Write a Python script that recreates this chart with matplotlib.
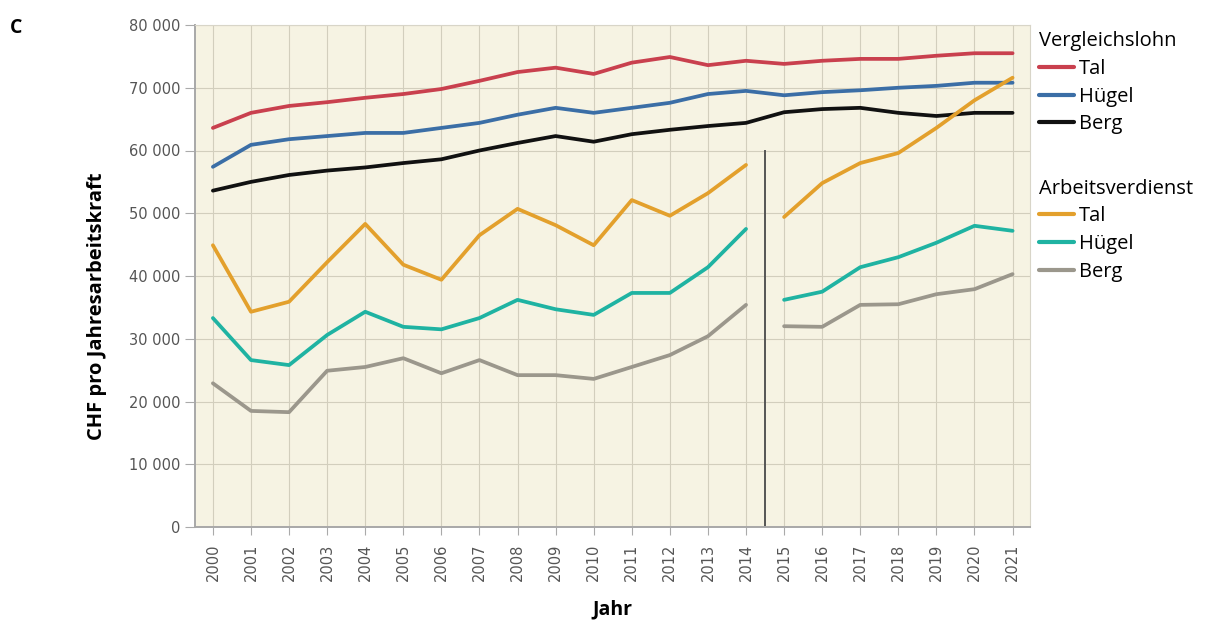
import numpy as np
import matplotlib
matplotlib.use("Agg")
import matplotlib.pyplot as plt
from matplotlib.ticker import FuncFormatter, MultipleLocator

# Data
years = list(range(2000, 2022))

vgl_tal = [63600, 66000, 67100, 67700, 68400, 69000, 69800, 71100, 72500, 73200, 72200,
           74000, 74900, 73600, 74300, 73800, 74300, 74600, 74600, 75100, 75500, 75500]
vgl_huegel = [57400, 60900, 61800, 62300, 62800, 62800, 63600, 64400, 65700, 66800, 66000,
              66800, 67600, 69000, 69500, 68800, 69300, 69600, 70000, 70300, 70800, 70800]
vgl_berg = [53600, 55000, 56100, 56800, 57300, 58000, 58600, 60000, 61200, 62300, 61400,
            62600, 63300, 63900, 64400, 66100, 66600, 66800, 66000, 65500, 66000, 66000]

# Arbeitsverdienst: series is broken between 2014 and 2015
av_tal = [44900, 34300, 35900, 42200, 48300, 41800, 39400, 46500, 50700, 48100, 44900,
          52100, 49600, 53200, 57700, 49400, 54800, 58000, 59600, 63600, 68000, 71600]
av_huegel = [33300, 26600, 25800, 30600, 34300, 31900, 31500, 33300, 36200, 34700, 33800,
             37300, 37300, 41400, 47500, 36200, 37500, 41400, 43000, 45300, 48000, 47200]
av_berg = [22900, 18500, 18300, 24900, 25500, 26900, 24500, 26600, 24200, 24200, 23600,
           25500, 27400, 30400, 35400, 32000, 31900, 35400, 35500, 37100, 37900, 40300]

break_year = 2014.5
series_names = ["Tal", "Hügel", "Berg"]
vgl_colors = ["#c9404e", "#3b6ea6", "#111111"]
av_colors = ["#e3a02c", "#1fb3a2", "#9b978c"]

plt.rcParams["font.family"] = ["Open Sans", "DejaVu Sans"]

fig = plt.figure(figsize=(12.15, 6.25), dpi=100)
ax = fig.add_axes([0.1605, 0.1568, 0.687, 0.8032])
ax.set_facecolor("#f6f3e3")

x = np.array(years)
lw = 2.7
vgl_handles = []
for vals, col, name in zip([vgl_tal, vgl_huegel, vgl_berg], vgl_colors, series_names):
    h, = ax.plot(x, vals, color=col, lw=lw, solid_capstyle="round", label=name, zorder=3)
    vgl_handles.append(h)

av_handles = []
for vals, col, name in zip([av_tal, av_huegel, av_berg], av_colors, series_names):
    v = np.array(vals, dtype=float)
    before = x <= break_year
    h, = ax.plot(x[before], v[before], color=col, lw=lw, solid_capstyle="round", label=name, zorder=3)
    ax.plot(x[~before], v[~before], color=col, lw=lw, solid_capstyle="round", zorder=3)
    av_handles.append(h)

# break marker
ax.plot([break_year, break_year], [0, 60000], color="#555555", lw=1.4, zorder=2)

ax.set_xlim(1999.53, 2021.45)
ax.set_ylim(0, 80000)
ax.set_xticks(years)
ax.set_xticklabels([str(y) for y in years], rotation=90, fontsize=10.5, color="#555555",
                   family="DejaVu Sans")
ax.yaxis.set_major_locator(MultipleLocator(10000))
ax.yaxis.set_major_formatter(FuncFormatter(lambda v, p: f"{int(v):,}".replace(",", " ")
                                           if v else "0"))
for lbl in ax.get_yticklabels():
    lbl.set_family("DejaVu Sans")
ax.tick_params(axis="y", labelsize=10.5, labelcolor="#555555", length=7, color="#aaaaaa")
ax.tick_params(axis="x", length=6, color="#aaaaaa", pad=6)

ax.grid(True, color="#d2cebd", lw=0.8, zorder=0)
ax.set_axisbelow(True)
for side in ["top", "right"]:
    ax.spines[side].set_color("#d8d5c8")
for side in ["left", "bottom"]:
    ax.spines[side].set_color("#a8a8a8")
    ax.spines[side].set_linewidth(1.4)

ax.set_ylabel("CHF pro Jahresarbeitskraft", fontsize=14.5, fontweight="bold")
ax.yaxis.set_label_coords(-0.105, 0.44)
ax.set_xlabel("Jahr", fontsize=14, fontweight="bold")
ax.xaxis.set_label_coords(0.5, -0.145)

legend_kw = dict(loc="upper left", frameon=False, fontsize=14.5, title_fontsize=14.5,
                 handlelength=1.75, handletextpad=0.25, labelspacing=0.38,
                 borderaxespad=0, borderpad=0)
leg1 = fig.legend(handles=vgl_handles, title="Vergleichslohn",
                  bbox_to_anchor=(0.855, 0.95), **legend_kw)
leg2 = fig.legend(handles=av_handles, title="Arbeitsverdienst",
                  bbox_to_anchor=(0.855, 0.714), **legend_kw)
for leg in (leg1, leg2):
    leg._legend_box.align = "left"
    for line in leg.get_lines():
        line.set_linewidth(3)

fig.text(0.008, 0.955, "C", fontsize=14, fontweight="bold", va="center")

fig.savefig("out.png", dpi=100, facecolor="white")
